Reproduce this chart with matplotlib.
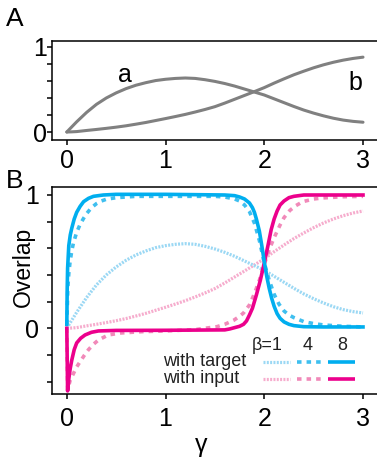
import numpy as np
import matplotlib
matplotlib.use("Agg")
import matplotlib.pyplot as plt
from matplotlib.ticker import MultipleLocator

plt.rcParams['font.family'] = ['Liberation Sans', 'DejaVu Sans']

# ---- data ----
# panel A: curve a / curve b (same as beta=1 curves in B)
gamma_ab = [0.0, 0.05, 0.1, 0.2, 0.3, 0.4, 0.5, 0.6, 0.7, 0.8, 0.9, 1.0, 1.1, 1.2, 1.3, 1.4, 1.5,
            1.6, 1.7, 1.8, 1.9, 2.0, 2.1, 2.2, 2.3, 2.4, 2.5, 2.6, 2.7, 2.8, 2.9, 3.0]
curve_a = [0.0, 0.06, 0.12, 0.23, 0.325, 0.40, 0.46, 0.51, 0.55, 0.58, 0.605, 0.62, 0.63, 0.635,
           0.63, 0.615, 0.595, 0.57, 0.54, 0.505, 0.47, 0.435, 0.39, 0.345, 0.30, 0.258, 0.222,
           0.19, 0.162, 0.14, 0.125, 0.115]
curve_b = [0.0, 0.002, 0.005, 0.018, 0.03, 0.043, 0.057, 0.073, 0.092, 0.112, 0.135, 0.158,
           0.182, 0.207, 0.235, 0.265, 0.298, 0.34, 0.385, 0.43, 0.475, 0.522, 0.575, 0.625,
           0.673, 0.715, 0.755, 0.79, 0.82, 0.845, 0.865, 0.88]

# panel B, beta = 4 and 8
gamma_t4 = [0.0, 0.01, 0.02, 0.033, 0.05, 0.067, 0.1, 0.135, 0.17, 0.2, 0.25, 0.3, 0.35, 0.4,
            0.5, 0.7, 1.0, 1.3, 1.5, 1.6, 1.7, 1.75, 1.8, 1.85, 1.9, 1.95, 2.0, 2.05, 2.1, 2.15,
            2.2, 2.25, 2.3, 2.4, 2.5, 2.6, 2.8, 3.0]
target_b4 = [0.03, 0.3, 0.41, 0.5, 0.58, 0.64, 0.72, 0.78, 0.825, 0.86, 0.905, 0.935, 0.955,
             0.968, 0.98, 0.99, 0.99, 0.99, 0.99, 0.985, 0.97, 0.955, 0.925, 0.875, 0.79, 0.66,
             0.49, 0.36, 0.255, 0.18, 0.13, 0.1, 0.08, 0.05, 0.035, 0.025, 0.015, 0.01]

gamma_t8 = [0.0, 0.004, 0.008, 0.02, 0.035, 0.05, 0.075, 0.1, 0.135, 0.17, 0.22, 0.27, 0.37,
            0.5, 1.0, 1.6, 1.7, 1.75, 1.8, 1.85, 1.88, 1.9, 1.92, 1.95, 1.975, 2.0, 2.025, 2.05,
            2.075, 2.1, 2.13, 2.16, 2.2, 2.25, 2.3, 2.4, 2.6, 3.0]
target_b8 = [0.03, 0.3, 0.45, 0.62, 0.7, 0.75, 0.82, 0.87, 0.915, 0.95, 0.975, 0.99, 1.0, 1.005,
             1.005, 1.0, 0.995, 0.985, 0.97, 0.94, 0.905, 0.87, 0.82, 0.73, 0.62, 0.5, 0.39,
             0.3, 0.225, 0.165, 0.11, 0.075, 0.048, 0.03, 0.02, 0.012, 0.01, 0.01]

gamma_i4 = [0.0, 0.008, 0.02, 0.034, 0.05, 0.067, 0.1, 0.135, 0.18, 0.22, 0.27, 0.32, 0.42,
            0.55, 0.77, 1.0, 1.3, 1.52, 1.6, 1.69, 1.75, 1.79, 1.85, 1.9, 1.95, 2.0, 2.05, 2.1,
            2.16, 2.2, 2.26, 2.32, 2.39, 2.5, 2.59, 2.8, 3.0]
input_b4 = [0.0, -0.46, -0.43, -0.39, -0.365, -0.34, -0.29, -0.25, -0.2, -0.16, -0.12, -0.088,
            -0.05, -0.035, -0.025, -0.02, -0.01, 0.012, 0.03, 0.06, 0.09, 0.115, 0.175, 0.26,
            0.36, 0.48, 0.59, 0.68, 0.775, 0.83, 0.885, 0.92, 0.95, 0.97, 0.978, 0.987, 0.99]

gamma_i8 = [0.0, 0.008, 0.02, 0.035, 0.05, 0.075, 0.1, 0.14, 0.185, 0.25, 0.32, 0.5, 1.0, 1.6,
            1.65, 1.7, 1.75, 1.79, 1.82, 1.85, 1.88, 1.92, 1.96, 2.0, 2.04, 2.07, 2.1, 2.13,
            2.16, 2.2, 2.25, 2.3, 2.4, 3.0]
input_b8 = [0.0, -0.47, -0.38, -0.3, -0.24, -0.16, -0.11, -0.075, -0.05, -0.03, -0.02, -0.016,
            -0.015, -0.012, -0.005, 0.005, 0.015, 0.03, 0.055, 0.1, 0.15, 0.25, 0.36, 0.49,
            0.63, 0.74, 0.82, 0.88, 0.925, 0.955, 0.98, 0.99, 1.0, 1.0]

xticks = [0, 1, 2, 3]
beta_labels = ['\u03b2=1', '4', '8']
row_labels = ['with target', 'with input']

# ---- styles ----
GRAY = '#808080'
BLUE = ['#9bd8f4', '#3fbfef', '#00aeef']   # beta 1, 4, 8
PINK = ['#f6accd', '#f189b9', '#ec008c']
DOT = (0, (0.62, 0.42))
DASH = (0, (1.25, 1.4))
styles = [(DOT, 2.3), (DASH, 2.6), ('-', 2.6)]

W, H = 377, 466
fig = plt.figure(figsize=(W / 100, H / 100), dpi=100)


def px_axes(left, top, right, bottom):
    return fig.add_axes([left / W, 1 - bottom / H, (right - left) / W, (bottom - top) / H])


def style_axes(ax, ypad, xpad):
    for s in ['left', 'bottom', 'top']:
        ax.spines[s].set_linewidth(1.1)
    ax.spines['right'].set_visible(False)
    ax.set_xlim(-0.15, 3.162)
    ax.set_xticks(xticks)
    ax.yaxis.set_minor_locator(MultipleLocator(0.2))
    ax.set_yticks([0, 1])
    ax.tick_params(which='both', direction='out', length=3.6, width=1.1, labelsize=18)
    ax.tick_params(axis='y', pad=ypad)
    ax.tick_params(axis='x', pad=xpad)
    ax.tick_params(axis='x', which='minor', bottom=False)


# ---- panel A ----
axA = px_axes(52, 41, 379, 140)
style_axes(axA, ypad=0.3, xpad=3)
axA.set_ylim(-0.094, 1.07)
axA.plot(gamma_ab, curve_a, color=GRAY, lw=2.2, solid_capstyle='round', solid_joinstyle='round')
axA.plot(gamma_ab, curve_b, color=GRAY, lw=2.2, solid_capstyle='round', solid_joinstyle='round')
axA.text(0.223, 0.585, 'a', transform=axA.transAxes, ha='center', va='baseline', fontsize=18)
axA.text(0.928, 0.505, 'b', transform=axA.transAxes, ha='center', va='baseline', fontsize=18)

# ---- panel B ----
axB = px_axes(52, 187, 379, 394)
style_axes(axB, ypad=5.5, xpad=5.5)
axB.set_ylim(-0.493, 1.06)

target = [(gamma_ab, curve_a), (gamma_t4, target_b4), (gamma_t8, target_b8)]
inputs = [(gamma_ab, curve_b), (gamma_i4, input_b4), (gamma_i8, input_b8)]
for k in range(3):
    ls, lw = styles[k]
    axB.plot(*inputs[k], color=PINK[k], ls=ls, lw=lw, zorder=2 + k, solid_joinstyle='round')
    axB.plot(*target[k], color=BLUE[k], ls=ls, lw=lw, zorder=2 + k, solid_joinstyle='round')

# hand-made legend
seg_x = [(0.646, 0.728), (0.750, 0.822), (0.843, 0.927)]
row_y = [0.153, 0.071]
head_x = [0.659, 0.783, 0.888]
for k in range(3):
    axB.text(head_x[k], 0.213, beta_labels[k], transform=axB.transAxes, ha='center',
             va='baseline', fontsize=13, color='#222222')
    ls, lw = styles[k]
    for r, col in enumerate([BLUE[k], PINK[k]]):
        axB.plot(seg_x[k], [row_y[r]] * 2, transform=axB.transAxes, color=col, ls=ls, lw=lw,
                 solid_capstyle='butt')
axB.text(0.339, 0.133, row_labels[0], transform=axB.transAxes, ha='left', va='baseline',
         fontsize=13, color='#222222')
axB.text(0.339, 0.051, row_labels[1], transform=axB.transAxes, ha='left', va='baseline',
         fontsize=13, color='#222222')

# axis labels and panel letters
fig.text(23.5 / W, 1 - 267 / H, 'Overlap', rotation=90, ha='center', va='center', fontsize=16.5)
fig.text(201 / W, 1 - 452 / H, '\u03b3', ha='center', va='baseline', fontsize=18)
fig.text(6 / W, 1 - 26 / H, 'A', ha='left', va='baseline', fontsize=19)
fig.text(6 / W, 1 - 188 / H, 'B', ha='left', va='baseline', fontsize=19)

fig.savefig('out.png', dpi=100)
